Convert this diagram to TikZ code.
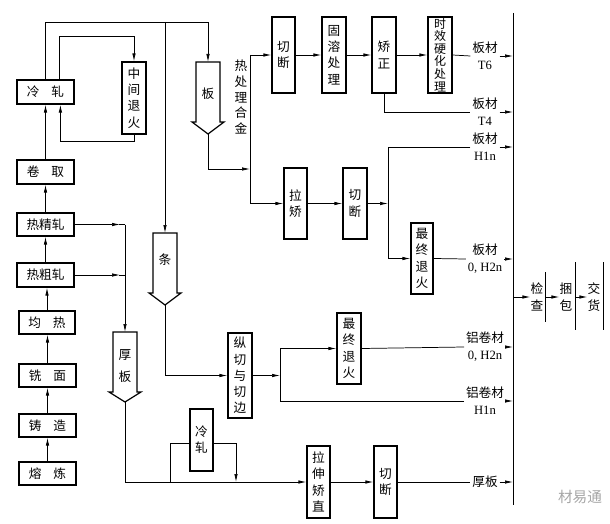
\documentclass[tikz,border=0pt]{standalone}
\usepackage{fontspec}
\setmainfont{Liberation Serif}
\newfontfamily\cjk{Noto Sans CJK SC}
\usetikzlibrary{arrows.meta,calc}
\tikzset{
  box/.style={draw, line width=0.9pt, fill=white, inner sep=0pt, align=center,
    font=\cjk\fontsize{9.5}{12.2}\selectfont},
  txt/.style={inner sep=0pt, align=center, font=\cjk\fontsize{9.5}{12.2}\selectfont},
  lab/.style={inner sep=1.2pt, align=center, font=\cjk\fontsize{9.5}{12.6}\selectfont},
  bigarrow/.style={draw, line width=0.9pt, fill=white},
  ln/.style={line width=0.55pt},
  arr/.style={line width=0.55pt, -{Latex[length=6pt,width=2.6pt]}},
  endbar/.style={line width=0.7pt}
}
\newcommand\bx[6]{\node[box, minimum width={(#4-#2)*0.75pt}, minimum height={(#5-#3)*0.75pt}] (#1) at ({(#2+#4)/2},{(#3+#5)/2}) {#6};}
\begin{document}
\begin{tikzpicture}[x=0.75pt,y=-0.75pt]
\useasboundingbox (0,0) rectangle (610,524);

% ---------- left column ----------
\bx{lz}{17}{80}{74}{104}{冷\hspace{9pt}轧}
\bx{jq}{17}{160}{74}{184}{卷\hspace{9pt}取}
\bx{rjz}{17}{213}{74}{236}{热精轧}
\bx{rcz}{17}{263}{74}{287}{热粗轧}
\bx{jr}{19}{311}{75}{334}{均\hspace{9pt}热}
\bx{xm}{19}{364}{76}{387}{铣\hspace{9pt}面}
\bx{zz}{19}{414}{76}{437}{铸\hspace{9pt}造}
\bx{rl}{19}{462}{76}{485}{熔\hspace{9pt}炼}

\draw[arr] (rl.north) -- (rl.north |- zz.south);
\draw[arr] (zz.north) -- (zz.north |- xm.south);
\draw[arr] (xm.north) -- (xm.north |- jr.south);
\draw[arr] (jr.north) -- (jr.north |- rcz.south);
\draw[arr] (rcz.north) -- (rcz.north |- rjz.south);
\draw[arr] (rjz.north) -- (rjz.north |- jq.south);
\draw[arr] (jq.north) -- (jq.north |- lz.south);

% intermediate annealing loop
\bx{zj}{122}{62}{146}{134}{中\\间\\退\\火}
\coordinate (topy) at (0,22);
\coordinate (iny) at (0,36);
\coordinate (boty) at (0,141);
\coordinate (lzA) at ($(lz.north west)+(43,0)$);
\coordinate (lzB) at ($(lz.south west)+(44,0)$);
\draw[arr] (lzA) |- (iny -| zj.north) -- (zj.north);
\draw[arr] (zj.south) |- (boty -| lzB) -- (lzB);

% ---------- big arrows ----------
% plate
\draw[bigarrow] (196,62) -- (220,62) -- (220,122) -- (224,122) -- (208,134) -- (192,122) -- (196,122) -- cycle;
\node[txt] (ban) at (208,94) {板};
\coordinate (banTop) at (208,62);
\coordinate (banTip) at (208,134);
% strip
\draw[bigarrow] (153,233) -- (177,233) -- (177,293) -- (181,293) -- (165,305) -- (149,293) -- (153,293) -- cycle;
\node[txt] (tiao) at (165,260) {条};
\coordinate (tiaoTop) at (165,233);
\coordinate (tiaoTip) at (165,305);
% thick plate
\draw[bigarrow] (113,332) -- (137,332) -- (137,392) -- (141,392) -- (125,402) -- (109,392) -- (113,392) -- cycle;
\node[txt, font=\cjk\fontsize{9.5}{17}\selectfont] (hou) at (125,366) {厚\\板};
\coordinate (houTop) at (125,332);
\coordinate (houTip) at (125,402);

\draw[arr] (lz.north) |- (topy -| banTop) -- (banTop);
\draw[arr] (topy -| tiaoTop) -- (tiaoTop);

% hot rolling to thick plate
\coordinate (hj1) at (rjz.east -| houTop);
\coordinate (hj2) at (rcz.east -| houTop);
\draw[arr] (rjz.east) -- ($(hj1)+(-5,0)$);
\draw[ln] ($(hj1)+(-6,0)$) -- (hj1);
\draw[arr] (rcz.east) -- ($(hj2)+(-5,0)$);
\draw[ln] ($(hj2)+(-6,0)$) -- (hj2);
\draw[arr] (hj1) -- (houTop);

% heat treatable alloy label
\node[txt, font=\cjk\fontsize{9.5}{11.8}\selectfont] (rcl) at (241,97) {热\\处\\理\\合\\金};

% ---------- main vertical collector ----------
\coordinate (mTop) at (513,13);
\coordinate (mBot) at (513,505);
\draw[ln] (mTop) -- (mBot);
\coordinate (mx) at (513,0);

% ---------- top row ----------
\coordinate (hx) at (250,0);
\coordinate (bany) at (0,169);
\bx{qd1}{272}{17}{295}{93}{切\\断}
\bx{gr}{322}{17}{346}{93}{固\\溶\\处\\理}
\bx{jz}{372}{17}{396}{93}{矫\\正}
\node[box, font=\cjk\fontsize{9}{9.4}\selectfont, minimum width={24*0.75pt}, minimum height={76*0.75pt}] (sx) at (440,55) {时\\效\\硬\\化\\处\\理};

\bx{lj}{284}{168}{307}{239}{拉\\矫}
\bx{qd2}{343}{168}{367}{239}{切\\断}
\bx{zt1}{411}{223}{433}{294}{最\\终\\退\\火}

\draw[arr] (hx |- qd1.west) -- (qd1.west);
\draw[ln] (hx |- qd1.west) -- (hx |- lj.west);
\draw[arr] (hx |- lj.west) -- (lj.west);
\draw[arr] (banTip) |- (hx |- bany);

\draw[arr] (qd1.east) -- (gr.west);
\draw[arr] (gr.east) -- (jz.west);
\draw[arr] (jz.east) -- (sx.west);

\node[lab] (l1) at (485,56) {板材\\{\rmfamily T6}};
\node[lab] (l2) at (485,112) {板材\\{\rmfamily T4}};
\node[lab] (l3) at (485,147) {板材\\{\rmfamily H1n}};
\node[lab] (l4) at (485,259) {板材\\{\rmfamily 0, H2n}};

\draw[ln] (sx.east) -- (l1.west);
\draw[arr] (l1.east) -- (l1.east -| mx);
\draw[ln] (jz.south) |- (l2.west);
\draw[arr] (l2.east) -- (l2.east -| mx);

\coordinate (vj) at (388,0);
\draw[arr] (lj.east) -- (qd2.west);
\draw[arr] (qd2.east) -- (vj |- qd2.east);
\draw[arr] (l3.west) -| (vj |- zt1.west) -- (zt1.west);
\draw[arr] (l3.east) -- (l3.east -| mx);
\draw[ln] (zt1.east) -- (l4.west);
\draw[arr] (l4.east) -- (l4.east -| mx);

% ---------- strip row ----------
\bx{zq}{228}{333}{252}{418}{纵\\切\\与\\切\\边}
\bx{zt2}{337}{313}{361}{384}{最\\终\\退\\火}
\draw[arr] (tiaoTip) |- (zq.west);
\coordinate (vk) at (280,0);
\draw[arr] (zq.east) -- (vk |- zq.east);
\node[lab] (l5) at (485,347) {铝卷材\\{\rmfamily 0, H2n}};
\node[lab] (l6) at (485,401) {铝卷材\\{\rmfamily H1n}};
\draw[arr] (l6.west) -| (vk |- zt2.west) -- (zt2.west);
\draw[ln] (zt2.east) -- (l5.west);
\draw[arr] (l5.east) -- (l5.east -| mx);
\draw[arr] (l6.east) -- (l6.east -| mx);

% ---------- thick plate row ----------
\bx{lsjz}{307}{446}{330}{518}{拉\\伸\\矫\\直}
\bx{qd3}{374}{446}{397}{518}{切\\断}
\bx{lz2}{190}{409}{213}{471}{冷\\轧}
\draw[arr] (houTip) |- (lsjz.west);
\coordinate (ly) at (0,443);
\coordinate (ca) at (170,0);
\coordinate (cb) at (236,0);
\draw[ln] (ca |- lsjz.west) |- (lz2.west |- ly);
\draw[arr] (lz2.east |- ly) -| (cb |- lsjz.west);
\draw[arr] (lsjz.east) -- (qd3.west);
\node[lab] (l7) at (485,482) {厚板};
\draw[ln] (qd3.east) -- (l7.west);
\draw[arr] (l7.east) -- (l7.east -| mx);

% ---------- inspection, packing, delivery ----------
\node[txt, font=\cjk\fontsize{9.5}{12.6}\selectfont] (jc) at (537,297) {检\\查};
\node[txt, font=\cjk\fontsize{9.5}{12.6}\selectfont] (kb) at (566,297) {捆\\包};
\node[txt, font=\cjk\fontsize{9.5}{12.6}\selectfont] (jh) at (594,297) {交\\货};
\coordinate (c1t) at (545,272); \coordinate (c1b) at (545,322);
\coordinate (c2t) at (575,262); \coordinate (c2b) at (575,330);
\coordinate (c3t) at (603,262); \coordinate (c3b) at (603,330);
\draw[endbar] (c1t) -- (c1b);
\draw[endbar] (c2t) -- (c2b);
\draw[endbar] (c3t) -- (c3b);
\draw[arr] (jc.west -| mx) -- (jc.west);
\draw[arr] (kb.west -| c1t) -- (kb.west);
\draw[arr] (jh.west -| c2t) -- (jh.west);

% watermark
\node[text=gray!70, font=\cjk\fontsize{11}{11}\selectfont] (wm) at (580,497) {材易通};
\end{tikzpicture}
\end{document}
